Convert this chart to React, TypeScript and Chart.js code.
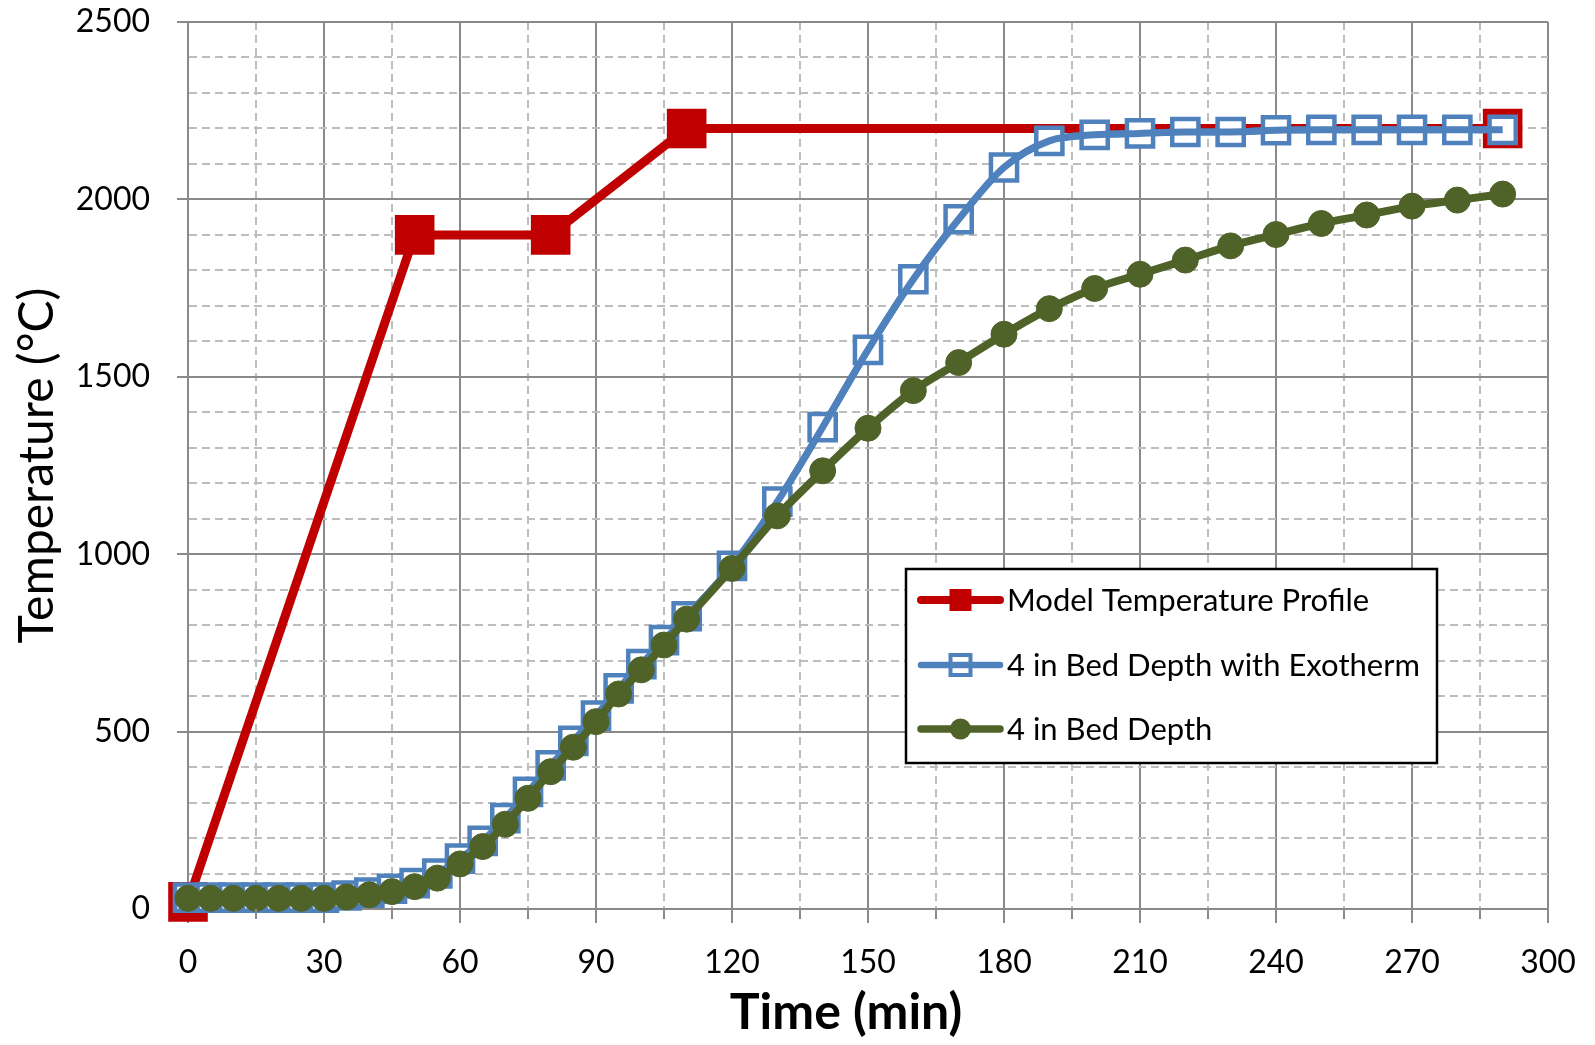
import React, { useEffect, useRef } from 'react';
import { Chart, registerables } from 'chart.js';

Chart.register(...registerables);

// ---- Data ----
const bedTimes = [0, 5, 10, 15, 20, 25, 30, 35, 40, 45, 50, 55, 60, 65, 70, 75, 80, 85, 90, 95, 100, 105, 110,
  120, 130, 140, 150, 160, 170, 180, 190, 200, 210, 220, 230, 240, 250, 260, 270, 280, 290];
const bedDepth = [30, 30, 30, 30, 30, 30, 30, 34, 40, 49, 63, 87, 127, 176, 239, 312, 387, 456, 528, 606, 674, 744, 817,
  960, 1108, 1235, 1355, 1461, 1540, 1620, 1692, 1749, 1789, 1829, 1869, 1901, 1932, 1956, 1981, 1998, 2015];
const bedExotherm = [32, 32, 32, 32, 32, 32, 32, 38, 46, 57, 73, 100, 142, 192, 256, 330, 405, 474, 545, 622, 690, 758, 825,
  967, 1148, 1358, 1576, 1775, 1944, 2090, 2165, 2182, 2186, 2190, 2190, 2195, 2196, 2196, 2196, 2196, 2196];
const profileTimes = [0, 50, 80, 110, 290];
const profileTemps = [20, 1900, 1900, 2200, 2200];

const seriesLabels = ['Model Temperature Profile', '4 in Bed Depth with Exotherm', '4 in Bed Depth'];
const xTitle = 'Time (min)';
const yTitle = 'Temperature (°C)';

const RED = '#C00000';
const BLUE = '#4F81BD';
const GREEN = '#4F6228';
const MAJOR = '#8A8A8A';
const MINOR = '#BDBDBD';
const FONT = 'Lato';

const toXY = (xs: number[], ys: number[]) => xs.map((x, i) => ({ x, y: ys[i] }));

const legendPlugin = {
  id: 'boxLegend',
  afterDraw(chart: any) {
    const ctx = chart.ctx as CanvasRenderingContext2D;
    ctx.save();
    const ca = chart.chartArea;

    // short minor tick marks on the x axis
    const xs = chart.scales.x;
    ctx.strokeStyle = MAJOR;
    ctx.lineWidth = 2;
    xs.ticks.forEach((t: any) => {
      if (t.value % 30 !== 0) {
        const px = Math.round(xs.getPixelForValue(t.value));
        ctx.beginPath();
        ctx.moveTo(px, ca.bottom);
        ctx.lineTo(px, ca.bottom + 10);
        ctx.stroke();
      }
    });

    // x axis title
    ctx.font = `bold 50px ${FONT}`;
    ctx.fillStyle = '#000';
    ctx.textAlign = 'center';
    ctx.textBaseline = 'middle';
    ctx.fillText(xTitle, (ca.left + ca.right) / 2 - 22, 1013);

    // legend box
    const x0 = 906, y0 = 569, w = 531, h = 194;
    ctx.fillStyle = '#fff';
    ctx.fillRect(x0, y0, w, h);
    ctx.lineWidth = 2.5;
    ctx.strokeStyle = '#000';
    ctx.strokeRect(x0, y0, w, h);
    const rowY = [600, 665, 729];
    const lx1 = 921, lx2 = 1000, mx = (lx1 + lx2) / 2;
    const drawLine = (y: number, color: string, lw: number) => {
      ctx.beginPath();
      ctx.lineCap = 'round';
      ctx.lineWidth = lw;
      ctx.strokeStyle = color;
      ctx.moveTo(lx1, y);
      ctx.lineTo(lx2, y);
      ctx.stroke();
    };
    // red
    drawLine(rowY[0], RED, 8);
    ctx.fillStyle = RED;
    ctx.fillRect(mx - 11, rowY[0] - 11, 22, 22);
    // blue
    ctx.fillStyle = '#fff';
    ctx.fillRect(mx - 10, rowY[1] - 10, 20, 20);
    ctx.lineWidth = 4;
    ctx.strokeStyle = BLUE;
    ctx.strokeRect(mx - 10, rowY[1] - 10, 20, 20);
    drawLine(rowY[1], BLUE, 6.5);
    // green
    drawLine(rowY[2], GREEN, 7.5);
    ctx.beginPath();
    ctx.fillStyle = GREEN;
    ctx.arc(mx, rowY[2], 10.5, 0, Math.PI * 2);
    ctx.fill();

    ctx.font = `31px ${FONT}`;
    ctx.fillStyle = '#000';
    ctx.textAlign = 'left';
    ctx.textBaseline = 'middle';
    seriesLabels.forEach((t, i) => ctx.fillText(t, 1007, rowY[i] + 1));
    ctx.restore();
  },
};

export default function App() {
  const ref = useRef<HTMLCanvasElement | null>(null);

  useEffect(() => {
    if (!ref.current) return;
    Chart.defaults.font.family = FONT;
    const chart = new Chart(ref.current, {
      type: 'line',
      data: {
        datasets: [
          {
            label: seriesLabels[2],
            data: toXY(bedTimes, bedDepth),
            borderColor: GREEN,
            backgroundColor: GREEN,
            borderWidth: 8,
            pointStyle: 'circle',
            pointRadius: 13,
            pointBorderWidth: 1,
            pointBorderColor: GREEN,
            pointBackgroundColor: GREEN,
            cubicInterpolationMode: 'monotone',
            clip: false,
            order: 0,
          },
          {
            label: seriesLabels[1] + ' line',
            data: toXY(bedTimes, bedExotherm),
            borderColor: BLUE,
            borderWidth: 7,
            pointRadius: 0,
            cubicInterpolationMode: 'monotone',
            clip: false,
            order: 1,
          },
          {
            label: seriesLabels[1],
            data: toXY(bedTimes, bedExotherm),
            borderColor: BLUE,
            borderWidth: 7,
            pointStyle: 'rect',
            pointRadius: 18.5,
            pointBorderWidth: 4.5,
            pointBorderColor: BLUE,
            pointBackgroundColor: '#fff',
            cubicInterpolationMode: 'monotone',
            clip: false,
            order: 2,
          },
          {
            label: seriesLabels[0],
            data: toXY(profileTimes, profileTemps),
            borderColor: RED,
            backgroundColor: RED,
            borderWidth: 9,
            tension: 0,
            pointStyle: 'rect',
            pointRadius: 28,
            pointBorderWidth: 0,
            pointBackgroundColor: RED,
            clip: false,
            order: 3,
          },
        ],
      },
      options: {
        responsive: false,
        animation: false,
        devicePixelRatio: 1,
        layout: { autoPadding: false, padding: { left: 0, right: 47, top: 22, bottom: 0 } },
        plugins: { legend: { display: false }, tooltip: { enabled: false } },
        scales: {
          x: {
            type: 'linear',
            min: 0,
            max: 300,
            ticks: {
              stepSize: 15,
              autoSkip: false,
              maxRotation: 0,
              padding: 20,
              color: '#000',
              font: { size: 32, family: FONT },
              callback: (v: any) => (Number(v) % 30 === 0 ? String(v) : ''),
            },
            grid: {
              color: (c: any) => (c.tick && c.tick.value % 30 === 0 ? MAJOR : MINOR),
              lineWidth: 2,
              tickLength: 14,
              tickColor: (c: any) => (c.tick && c.tick.value % 30 === 0 ? MAJOR : 'rgba(0,0,0,0)'),
              tickWidth: 2,
            },
            border: {
              color: MAJOR,
              width: 2,
              dash: (c: any) => (c.tick && c.tick.value % 30 !== 0 ? [8, 5] : []),
            },
            title: { display: false },
            afterFit: (s: any) => {
              s.height = 136;
              s.paddingLeft = 0;
              s.paddingRight = 0;
              s.paddingTop = 0;
              s.paddingBottom = 0;
            },
          },
          y: {
            type: 'linear',
            min: 0,
            max: 2500,
            ticks: {
              stepSize: 100,
              autoSkip: false,
              padding: 27,
              color: '#000',
              font: { size: 32, family: FONT },
              callback: (v: any) => (Number(v) % 500 === 0 ? String(v) : ''),
            },
            grid: {
              color: (c: any) => (c.tick && c.tick.value % 500 === 0 ? MAJOR : MINOR),
              lineWidth: 2,
              tickLength: 11,
              tickColor: (c: any) => (c.tick && c.tick.value % 500 === 0 ? MAJOR : 'rgba(0,0,0,0)'),
              tickWidth: 2,
            },
            border: {
              color: MAJOR,
              width: 2,
              dash: (c: any) => (c.tick && c.tick.value % 500 !== 0 ? [8, 5] : []),
            },
            title: {
              display: true,
              text: yTitle,
              color: '#000',
              font: { size: 48, family: FONT, weight: 'normal' },
              padding: { top: 9, bottom: 0 },
            },
            afterFit: (s: any) => {
              s.width = 188;
              s.paddingTop = 0;
              s.paddingBottom = 0;
              s.paddingLeft = 0;
              s.paddingRight = 0;
            },
          },
        },
      },
      plugins: [legendPlugin],
    } as any);
    return () => chart.destroy();
  }, []);

  return (
    <div style={{ position: 'absolute', left: 0, top: 0, width: 1595, height: 1045, background: '#fff' }}>
      <canvas ref={ref} width={1595} height={1045} style={{ display: 'block' }} />
    </div>
  );
}
